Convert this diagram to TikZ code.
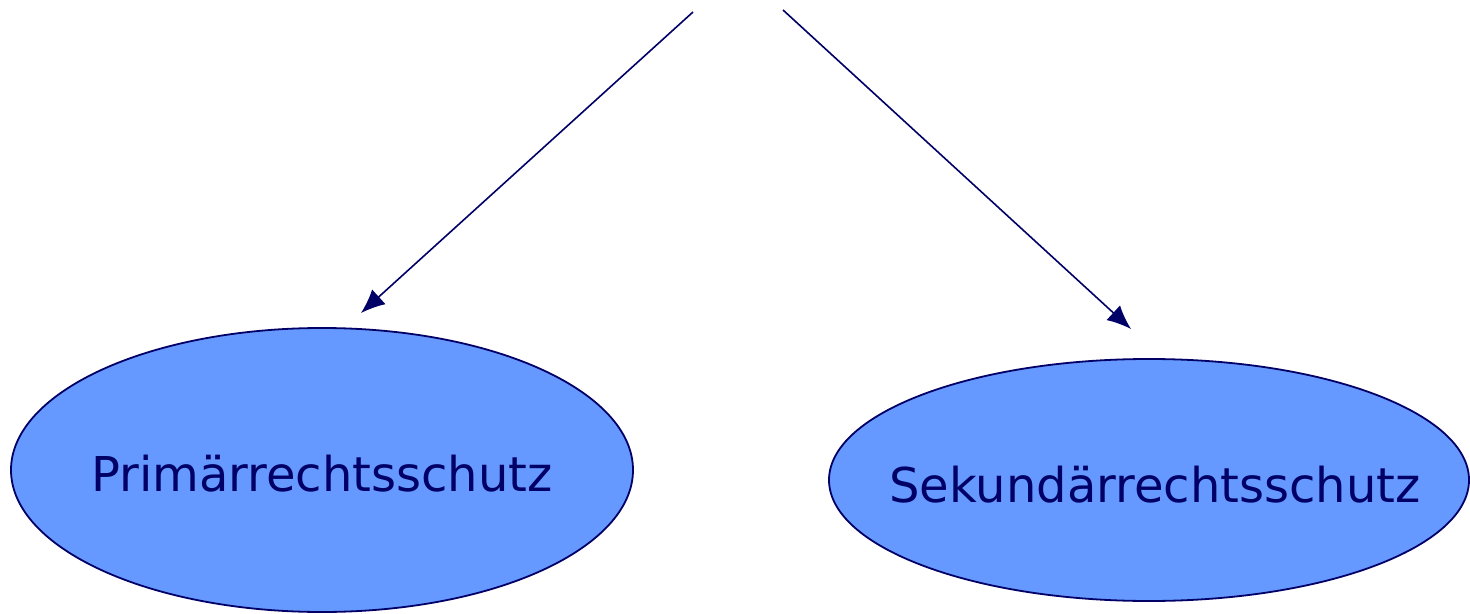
\documentclass[tikz,border=0pt]{standalone}
\usepackage{fontspec}
\setmainfont{DejaVu Sans}
\usetikzlibrary{shapes.geometric,arrows.meta}

\definecolor{navy}{HTML}{000066}
\definecolor{fillblue}{HTML}{6699FF}

\tikzset{
  rechtbox/.style={ellipse, draw=navy, fill=fillblue, line width=0.9pt, inner sep=0pt},
  rechttext/.style={text=navy, inner sep=0pt, font=\fontsize{24}{29}\selectfont},
  pfeil/.style={draw=navy, line width=0.8pt, -{Latex[length=12pt,width=10pt]}}
}

\begin{document}
\begin{tikzpicture}[x=0.5pt,y=-0.5pt]
\useasboundingbox (0,0) rectangle (1470,614);

\node[rechtbox, minimum width=311pt, minimum height=142pt] (prim) at (322,470) {};
\node[rechtbox, minimum width=320pt, minimum height=121pt] (sek) at (1149,480) {};
\node[rechttext] (primtext) at (322,474) {Primärrechtsschutz};
\node[rechttext] (sektext) at (1155,485) {Sekundärrechtsschutz};

\coordinate (linksoben) at (693,12);
\coordinate (rechtsoben) at (783,10);
\coordinate (linksspitze) at (361,313);
\coordinate (rechtsspitze) at (1131,329);

\draw[pfeil] (linksoben) -- (linksspitze);
\draw[pfeil] (rechtsoben) -- (rechtsspitze);
\end{tikzpicture}
\end{document}
